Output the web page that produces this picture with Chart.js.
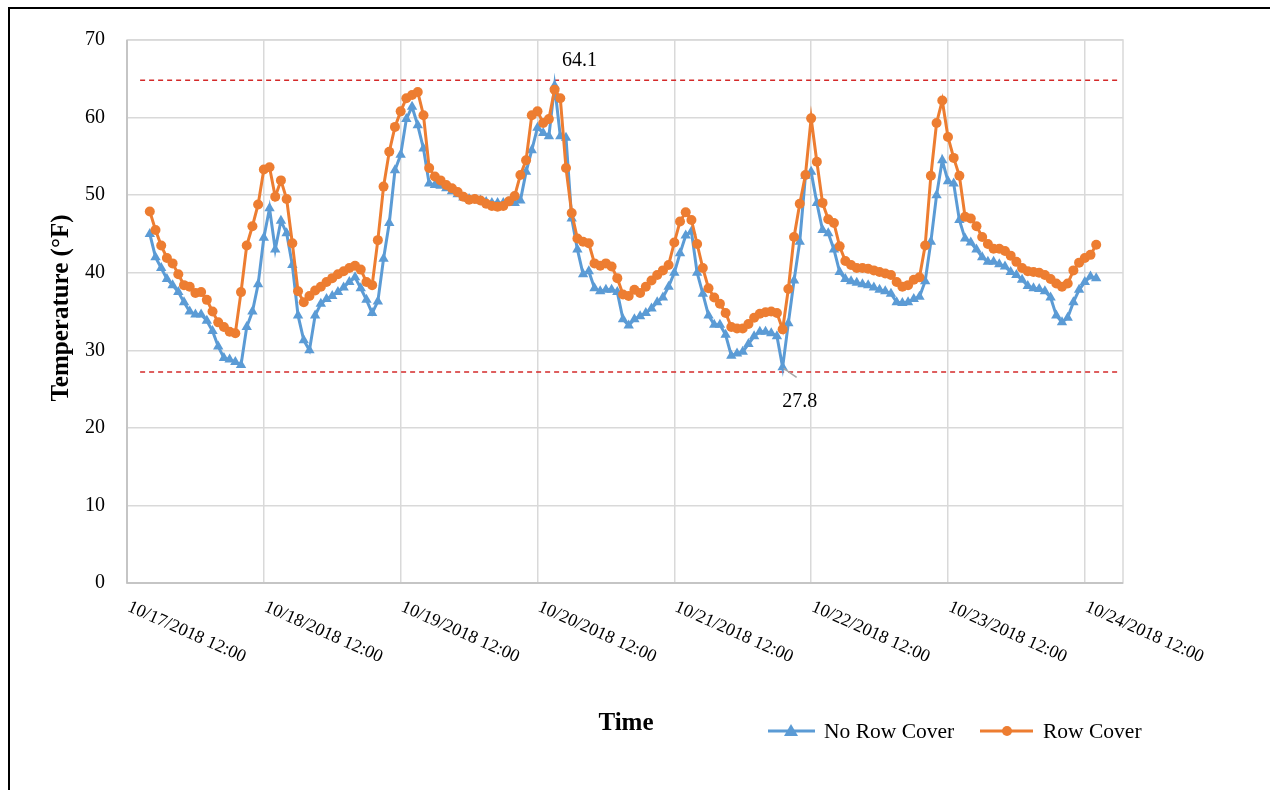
<!DOCTYPE html>
<html>
<head>
<meta charset="utf-8">
<script src="https://cdn.jsdelivr.net/npm/chart.js@4.4.1/dist/chart.umd.min.js"></script>
<style>
    html, body { margin: 0; padding: 0; background: #fff; }
    #wrap { width: 1270px; height: 790px; }
</style>
</head>
<body>
<div id="wrap"><canvas id="tempChart" width="1270" height="790"></canvas></div>
<script>
// hourly readings, first one at 10/17/2018 16:00 (hours counted from 10/17 12:00)
const startHour = 4;

const rowCover = [
    47.9, 45.5, 43.5, 41.9, 41.2, 39.8, 38.4, 38.2, 37.4, 37.5,
    36.5, 35.0, 33.6, 33.0, 32.4, 32.2, 37.5, 43.5, 46.0, 48.8,
    53.3, 53.6, 49.8, 51.9, 49.5, 43.8, 37.6, 36.2, 37.0, 37.7,
    38.2, 38.8, 39.3, 39.8, 40.2, 40.6, 40.9, 40.4, 38.8, 38.4,
    44.2, 51.1, 55.6, 58.8, 60.8, 62.5, 62.9, 63.3, 60.3, 53.5,
    52.4, 51.9, 51.3, 50.9, 50.4, 49.8, 49.4, 49.5, 49.3, 48.9,
    48.6, 48.5, 48.6, 49.2, 49.9, 52.6, 54.5, 60.3, 60.8, 59.3,
    59.8, 63.6, 62.5, 53.5, 47.7, 44.4, 44.0, 43.8, 41.2, 40.9,
    41.2, 40.8, 39.3, 37.2, 37.0, 37.8, 37.4, 38.2, 39.0, 39.7,
    40.3, 41.0, 43.9, 46.6, 47.8, 46.8, 43.7, 40.6, 38.0, 36.8,
    36.0, 34.8, 33.0, 32.8, 32.8, 33.4, 34.2, 34.7, 34.9, 35.0,
    34.8, 32.7, 37.9, 44.6, 48.9, 52.6, 59.9, 54.3, 49.0, 46.9,
    46.4, 43.4, 41.5, 41.0, 40.6, 40.6, 40.5, 40.3, 40.1, 39.9,
    39.7, 38.8, 38.2, 38.4, 39.1, 39.4, 43.5, 52.5, 59.3, 62.2,
    57.5, 54.8, 52.5, 47.2, 47.0, 46.0, 44.6, 43.7, 43.1, 43.1,
    42.8, 42.2, 41.4, 40.6, 40.2, 40.1, 40.0, 39.7, 39.2, 38.6,
    38.2, 38.6, 40.3, 41.3, 41.9, 42.3, 43.6
];

const noRowCover = [
    45.0, 42.0, 40.6, 39.2, 38.4, 37.5, 36.2, 35.0, 34.6, 34.6,
    33.8, 32.5, 30.5, 29.0, 28.8, 28.5, 28.1, 33.0, 35.0, 38.5,
    44.5, 48.3, 43.0, 46.7, 45.1, 41.0, 34.5, 31.3, 30.0, 34.5,
    36.0, 36.6, 37.0, 37.5, 38.1, 38.8, 39.4, 38.0, 36.5, 34.8,
    36.3, 41.8, 46.4, 53.2, 55.2, 59.8, 61.4, 59.0, 56.0, 51.5,
    51.3, 51.2, 50.9, 50.5, 50.1, 49.7, 49.5, 49.4, 49.3, 49.1,
    49.0, 49.0, 49.0, 49.1, 49.0, 49.3, 53.0, 55.8, 58.7, 58.0,
    57.6, 64.1, 57.6, 57.4, 47.0, 43.0, 39.8, 40.2, 38.0, 37.6,
    37.8, 37.8, 37.5, 34.0, 33.2, 34.0, 34.4, 34.8, 35.4, 36.2,
    36.8, 38.2, 40.0, 42.5, 44.8, 45.3, 40.0, 37.3, 34.5, 33.3,
    33.3, 32.0, 29.3, 29.6, 29.8, 30.8, 31.8, 32.4, 32.4, 32.2,
    31.8, 27.8, 33.5, 39.0, 44.0, 52.5, 53.0, 49.0, 45.5, 45.1,
    43.0, 40.1, 39.2, 38.9, 38.7, 38.5, 38.4, 38.1, 37.8, 37.6,
    37.3, 36.2, 36.1, 36.2, 36.6, 36.9, 38.9, 44.0, 50.0, 54.5,
    51.8, 51.5, 46.8, 44.4, 43.9, 43.0, 42.0, 41.4, 41.4, 41.1,
    40.8, 40.1, 39.7, 39.1, 38.3, 38.0, 37.9, 37.6, 36.8, 34.5,
    33.6, 34.2, 36.2, 37.8, 38.8, 39.5, 39.3
];

const hours = rowCover.map((_, i) => startHour + i);

const tickLabels = [
    "10/17/2018 12:00", "10/18/2018 12:00", "10/19/2018 12:00", "10/20/2018 12:00",
    "10/21/2018 12:00", "10/22/2018 12:00", "10/23/2018 12:00", "10/24/2018 12:00"
];
const yTicks = [0, 10, 20, 30, 40, 50, 60, 70];

// dashed max / min guide lines
const refLines = [64.8, 27.2];
const refStart = 2.3;
const refEnd = 174.0;

const BLUE = "#5b9bd5";
const ORANGE = "#ed7d31";
const SERIF = "'Liberation Serif', 'Times New Roman', serif";

function toPoints(values) {
    return values.map((v, i) => ({ x: hours[i], y: v }));
};

const refDatasets = refLines.map(v => ({
    label: "ref",
    data: [{ x: refStart, y: v }, { x: refEnd, y: v }],
    borderColor: "#d42a2a",
    borderWidth: 1.5,
    borderDash: [5, 4],
    pointRadius: 0,
    order: 3
}));

const decorPlugin = {
    id: "decor",
    afterDraw(chart) {
        const ctx = chart.ctx;
        const xs = chart.scales.x;
        const ys = chart.scales.y;
        const area = chart.chartArea;

        ctx.save();

        // plot frame
        ctx.strokeStyle = "#d9d9d9";
        ctx.lineWidth = 1.5;
        ctx.strokeRect(area.left, area.top, area.right - area.left, area.bottom - area.top);
        ctx.strokeStyle = "#bfbfbf";
        ctx.beginPath();
        ctx.moveTo(area.left, area.top);
        ctx.lineTo(area.left, area.bottom);
        ctx.lineTo(area.right, area.bottom);
        ctx.stroke();

        // outer black border
        ctx.strokeStyle = "#000";
        ctx.lineWidth = 2;
        ctx.beginPath();
        ctx.moveTo(9, 800);
        ctx.lineTo(9, 8);
        ctx.lineTo(1280, 8);
        ctx.stroke();

        ctx.fillStyle = "#000";

        // y tick labels
        ctx.font = "20px " + SERIF;
        ctx.textAlign = "right";
        ctx.textBaseline = "middle";
        yTicks.forEach(v => {
            ctx.fillText(String(v), area.left - 22, ys.getPixelForValue(v));
        });

        // x tick labels, slanted down to the right
        ctx.font = "18px " + SERIF;
        ctx.textAlign = "left";
        ctx.textBaseline = "top";
        tickLabels.forEach((lab, i) => {
            const px = xs.getPixelForValue(i * 24);
            ctx.save();
            ctx.translate(px + 5, area.bottom + 15);
            ctx.rotate(24 * Math.PI / 180);
            ctx.fillText(lab, 0, 0);
            ctx.restore();
        });

        // axis titles
        ctx.font = "bold 25px " + SERIF;
        ctx.textAlign = "center";
        ctx.textBaseline = "middle";
        ctx.fillText("Time", 626, 724);
        ctx.save();
        ctx.translate(62, 308);
        ctx.rotate(-Math.PI / 2);
        ctx.fillText("Temperature (\u00B0F)", 0, 0);
        ctx.restore();

        // max / min callouts
        const blueMeta = chart.getDatasetMeta(1);
        const maxIdx = noRowCover.indexOf(Math.max(...noRowCover));
        const minIdx = noRowCover.indexOf(Math.min(...noRowCover));
        const pMax = blueMeta.data[maxIdx];
        const pMin = blueMeta.data[minIdx];
        ctx.font = "20px " + SERIF;
        ctx.fillText(noRowCover[maxIdx].toFixed(1), pMax.x + 25, pMax.y - 25);
        ctx.strokeStyle = "#a6a6a6";
        ctx.lineWidth = 1.5;
        ctx.beginPath();
        ctx.moveTo(pMin.x + 1, pMin.y + 1);
        ctx.lineTo(pMin.x + 14, pMin.y + 10);
        ctx.stroke();
        ctx.fillText(noRowCover[minIdx].toFixed(1), pMin.x + 17, pMin.y + 34);

        // legend
        const ly = 731;
        ctx.lineWidth = 3;
        ctx.strokeStyle = BLUE;
        ctx.beginPath();
        ctx.moveTo(768, ly);
        ctx.lineTo(815, ly);
        ctx.stroke();
        ctx.fillStyle = BLUE;
        ctx.beginPath();
        ctx.moveTo(791, ly - 7);
        ctx.lineTo(798, ly + 5);
        ctx.lineTo(784, ly + 5);
        ctx.closePath();
        ctx.fill();

        ctx.strokeStyle = ORANGE;
        ctx.beginPath();
        ctx.moveTo(980, ly);
        ctx.lineTo(1033, ly);
        ctx.stroke();
        ctx.fillStyle = ORANGE;
        ctx.beginPath();
        ctx.arc(1007, ly, 5, 0, Math.PI * 2);
        ctx.fill();

        ctx.fillStyle = "#000";
        ctx.font = "21.5px " + SERIF;
        ctx.textAlign = "left";
        ctx.fillText("No Row Cover", 824, ly + 1);
        ctx.fillText("Row Cover", 1043, ly + 1);

        ctx.restore();
    }
};

new Chart(document.getElementById("tempChart"), {
    type: "line",
    data: {
        datasets: [
            {
                label: "Row Cover",
                data: toPoints(rowCover),
                borderColor: ORANGE,
                backgroundColor: ORANGE,
                borderWidth: 3,
                pointStyle: "circle",
                pointRadius: 5,
                pointBorderWidth: 0,
                order: 1
            },
            {
                label: "No Row Cover",
                data: toPoints(noRowCover),
                borderColor: BLUE,
                backgroundColor: BLUE,
                borderWidth: 3,
                pointStyle: "triangle",
                pointRadius: 6,
                pointBorderWidth: 0,
                order: 2
            },
            ...refDatasets
        ]
    },
    options: {
        responsive: false,
        animation: false,
        devicePixelRatio: 1,
        layout: {
            padding: { left: 127, top: 40, right: 147, bottom: 207 }
        },
        scales: {
            x: {
                type: "linear",
                min: 0,
                max: 174.7,
                ticks: { display: false, stepSize: 24, includeBounds: false },
                grid: { color: "#d9d9d9", lineWidth: 1.5, drawTicks: false },
                border: { display: false }
            },
            y: {
                min: 0,
                max: 70,
                ticks: { display: false, stepSize: 10 },
                grid: { color: "#d9d9d9", lineWidth: 1.5, drawTicks: false },
                border: { display: false }
            }
        },
        plugins: {
            legend: { display: false },
            tooltip: { enabled: false }
        }
    },
    plugins: [decorPlugin]
});
</script>
</body>
</html>
